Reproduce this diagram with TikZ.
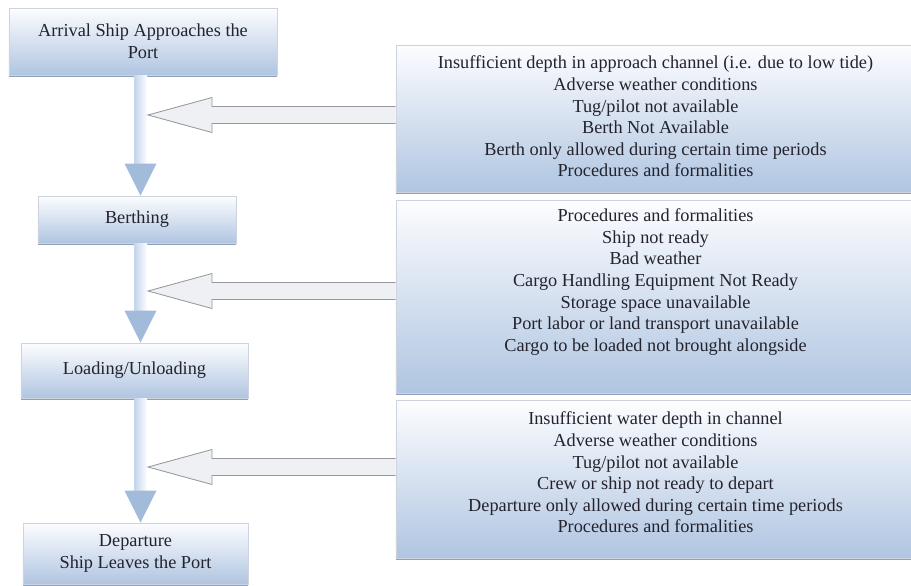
\documentclass[tikz,border=0pt]{standalone}
\usepackage{fontspec}
\setmainfont{Liberation Serif}
\usetikzlibrary{calc,shadows}

\definecolor{boxtop}{RGB}{252,253,255}
\definecolor{boxblue}{RGB}{176,197,225}
\definecolor{boxline}{RGB}{205,212,222}
\definecolor{shadowcol}{RGB}{130,150,178}
\definecolor{textcol}{RGB}{35,35,45}
\definecolor{headblue}{RGB}{163,187,219}
\definecolor{shaftblue}{RGB}{196,212,234}
\definecolor{sidefill}{RGB}{238,240,244}
\definecolor{sideline}{RGB}{150,152,158}

\begin{document}
\begin{tikzpicture}[x=0.025cm,y=-0.025cm,
	box/.style={draw=boxline,line width=0.4pt,top color=boxtop,bottom color=boxblue,
		inner sep=0pt,align=center,text=textcol,font=\fontsize{13}{15.4}\selectfont,
		drop shadow={shadow xshift=0pt,shadow yshift=-1.3pt,fill=shadowcol,opacity=0.9}},
	boxtext/.style={inner sep=0pt,align=center,text=textcol,font=\fontsize{13}{15.4}\selectfont},
	shaft/.style={left color=shaftblue,right color=boxtop},
	head/.style={fill=headblue},
	sidearrow/.style={fill=sidefill,draw=sideline,line width=0.6pt,line join=miter}]
	\useasboundingbox (0,0) rectangle (911,585);

	% the four stages
	\node[box,minimum width=6.7cm,minimum height=1.675cm] (arr) at (143,41.5) {Arrival Ship Approaches the\\Port};
	\node[box,minimum width=4.95cm,minimum height=1.175cm] (berth) at (137,219.5) {Berthing};
	\node[box,minimum width=5.675cm,minimum height=1.375cm] (load) at (134.5,370.5) {Loading/Unloading};
	\node[box,minimum width=5.625cm,minimum height=1.525cm] (dep) at (135.5,553.5) {Departure\\Ship Leaves the Port};

	% causes of delay
	\node[box,minimum width=12.975cm,minimum height=3.675cm] (r1) at (655.5,118.5) {};
	\node[box,minimum width=12.975cm,minimum height=4.825cm] (r2) at (655.5,296.5) {};
	\node[box,minimum width=12.975cm,minimum height=3.95cm] (r3) at (655.5,479) {};
	\node[boxtext] (r1t) at ($(r1)+(0,-2)$) {Insufficient depth in approach channel (i.e. due to low tide)\\Adverse weather conditions\\Tug/pilot not available\\Berth Not Available\\Berth only allowed during certain time periods\\Procedures and formalities};
	\node[boxtext] (r2t) at ($(r2)+(0,-14.5)$) {Procedures and formalities\\Ship not ready\\Bad weather\\Cargo Handling Equipment Not Ready\\Storage space unavailable\\Port labor or land transport unavailable\\Cargo to be loaded not brought alongside};
	\node[boxtext] (r3t) at ($(r3)+(0,-6.5)$) {Insufficient water depth in channel\\Adverse weather conditions\\Tug/pilot not available\\Crew or ship not ready to depart\\Departure only allowed during certain time periods\\Procedures and formalities};

	\coordinate (col) at (140.5,0);

	% down arrows
	\foreach \a/\b in {arr/berth,berth/load,load/dep}{
		\shade[shaft] ($(\a.south -| col)+(-6.5,0)$) rectangle ($(\b.north -| col)+(6.5,-32)$);
		\fill[head] ($(\b.north -| col)+(-16,-32)$) -- ($(\b.north -| col)+(16,-32)$) -- (\b.north -| col) -- cycle;
	}

	% arrows from the causes
	\foreach \b/\dy in {r1/-3.5,r2/-5.5,r3/-12}{
		\coordinate (s) at ($(\b.west)+(0,\dy)$);
		\coordinate (t) at ($(s -| col)+(7.5,0)$);
		\draw[sidearrow] ($(s)+(0,-8.5)$) -- ($(t)+(64,-8.5)$) -- ($(t)+(64,-17.5)$) -- (t)
			-- ($(t)+(64,17.5)$) -- ($(t)+(64,8.5)$) -- ($(s)+(0,8.5)$);
	}
\end{tikzpicture}
\end{document}
